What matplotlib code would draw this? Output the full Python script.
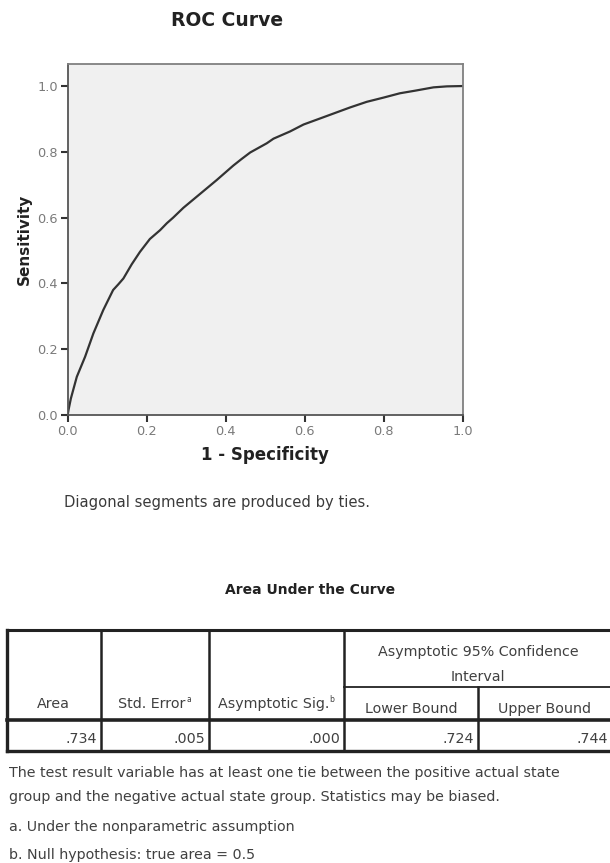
import matplotlib
matplotlib.use("Agg")
import matplotlib.pyplot as plt
from matplotlib.lines import Line2D

# ---- data ----
fpr = [0.0, 0.002, 0.008, 0.023, 0.044, 0.065, 0.090, 0.115, 0.128, 0.141, 0.162, 0.183,
       0.208, 0.234, 0.251, 0.267, 0.293, 0.335, 0.377, 0.419, 0.440, 0.462, 0.504, 0.521,
       0.563, 0.597, 0.647, 0.715, 0.757, 0.800, 0.841, 0.880, 0.926, 0.960, 1.0]
tpr = [0.0, 0.015, 0.050, 0.116, 0.177, 0.248, 0.319, 0.380, 0.397, 0.415, 0.458, 0.496,
       0.535, 0.562, 0.583, 0.600, 0.630, 0.672, 0.714, 0.758, 0.778, 0.798, 0.826, 0.840,
       0.862, 0.883, 0.905, 0.935, 0.952, 0.965, 0.978, 0.986, 0.996, 0.999, 1.0]
xticks = [0.0, 0.2, 0.4, 0.6, 0.8, 1.0]
yticks = [0.0, 0.2, 0.4, 0.6, 0.8, 1.0]

table_title = "Area Under the Curve"
col_headers = ["Area", "Std. Error", "Asymptotic Sig.", "Lower Bound", "Upper Bound"]
col_super = ["", "a", "b", "", ""]
group_header = ["Asymptotic 95% Confidence", "Interval"]
row_values = [".734", ".005", ".000", ".724", ".744"]
footnotes = [
    "The test result variable has at least one tie between the positive actual state",
    "group and the negative actual state group. Statistics may be biased.",
    "a. Under the nonparametric assumption",
    "b. Null hypothesis: true area = 0.5",
]
chart_note = "Diagonal segments are produced by ties."

W, H = 610, 863
plt.rcParams['font.family'] = ['DejaVu Sans']
fig = plt.figure(figsize=(W / 100, H / 100), dpi=100)


def fx(px):
    return px / W


def fy(py):
    return 1 - py / H


# ---- ROC axes ----
ax_l, ax_r, ax_t, ax_b = 67.7, 462.7, 64, 415
ax = fig.add_axes([fx(ax_l), fy(ax_b), (ax_r - ax_l) / W, (ax_b - ax_t) / H])
ax.set_facecolor("#f0f0f0")
ax.plot(fpr, tpr, color="#333333", lw=1.6)
ax.set_xlim(0, 1.0)
ax.set_ylim(0, 1.067)
ax.set_xticks(xticks)
ax.set_yticks(yticks)
ax.set_xticklabels([f"{v:.1f}" for v in xticks])
ax.set_yticklabels([f"{v:.1f}" for v in yticks])
ax.tick_params(axis="both", direction="out", length=5, width=1.5, color="#333333",
               labelsize=9.3, labelcolor="#7a7a7a", pad=2)
for s in ax.spines.values():
    s.set_color("#808080")
    s.set_linewidth(1.3)
ax.spines["left"].set_color("#555555")
ax.spines["bottom"].set_color("#555555")
ax.set_xlabel("1 - Specificity", fontsize=12, fontweight="bold", color="#222222", labelpad=6)
ax.set_ylabel("Sensitivity", fontsize=11, fontweight="bold", color="#222222", labelpad=4)

fig.text(fx(227), fy(20), "ROC Curve", fontsize=13.5, fontweight="bold", color="#222222",
         ha="center", va="center")
fig.text(fx(64), fy(502), chart_note, fontsize=10.6, color="#3a3a3a", ha="left", va="center")

# ---- table ----
tax = fig.add_axes([0, 0, 1, 1])
tax.set_xlim(0, W)
tax.set_ylim(H, 0)
tax.axis("off")

tax.text(310, 590, table_title, fontsize=10, fontweight="bold", color="#222222",
         ha="center", va="center")

xs = [6.7, 100.7, 209, 344, 477.7, 612]
top, sub, hdr_bot, bot = 630, 687, 720, 751
lc = "#222222"


def hline(y, x0, x1, lw=1.5):
    tax.add_line(Line2D([x0, x1], [y, y], color=lc, lw=lw))


def vline(x, y0, y1, lw=1.5):
    tax.add_line(Line2D([x, x], [y0, y1], color=lc, lw=lw))


hline(top, xs[0], xs[-1], 2.2)
hline(bot, xs[0], xs[-1], 2.4)
hline(hdr_bot, xs[0], xs[-1], 2.6)
hline(sub, xs[3], xs[-1], 1.3)
vline(xs[0], top, bot, 2.4)
vline(xs[-1], top, bot, 2.4)
for x in xs[1:4]:
    vline(x, top, bot, 1.8)
vline(xs[4], sub, bot, 1.8)

tc = "#404040"
fs = 10.3
gx = (xs[3] + xs[5]) / 2
tax.text(gx, 652, group_header[0], fontsize=fs, color=tc, ha="center", va="center")
tax.text(gx, 676.5, group_header[1], fontsize=fs, color=tc, ha="center", va="center")
fig.canvas.draw()
renderer = fig.canvas.get_renderer()
for i, (h, sup) in enumerate(zip(col_headers, col_super)):
    cx = (xs[i] + xs[i + 1]) / 2
    cy = 704 if i < 3 else 709
    if sup:
        cx -= 3
    t = tax.text(cx, cy, h, fontsize=fs, color=tc, ha="center", va="center")
    if sup:
        bb = t.get_window_extent(renderer)
        tax.text(bb.x1 + 0.5, cy - 5, sup, fontsize=5.5, color=tc, ha="left", va="center")
for i, v in enumerate(row_values):
    tax.text(xs[i + 1] - 3.5, 739, v, fontsize=fs, color=tc, ha="right", va="center")

fy_lines = [773, 797, 827, 855]
for y, t in zip(fy_lines, footnotes):
    tax.text(9, y, t, fontsize=10.3, color=tc, ha="left", va="center")

fig.savefig("out.png", dpi=100)
